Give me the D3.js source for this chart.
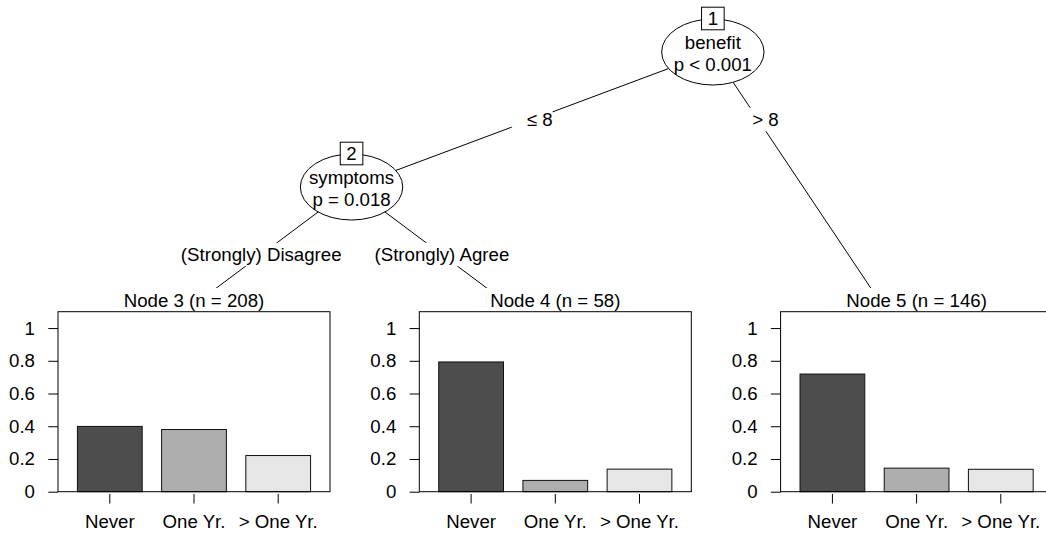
<!DOCTYPE html>
<html><head><meta charset="utf-8">
<script src="https://cdn.jsdelivr.net/npm/d3@7"></script>
<style>
body{margin:0;background:#fff}
svg{display:block}
text{font-family:"Liberation Sans",Arial,Helvetica,sans-serif;font-size:18.67px;fill:#000}
</style>
</head><body>
<svg id="chart" width="1046" height="534"></svg>
<script>
// ---- data ----
const classLabels = ["Never", "One Yr.", "> One Yr."];
const classColors = ["#4D4D4D", "#AEAEAE", "#E6E6E6"];
const innerNodeIds = [1, 2];
const innerVariables = ["benefit", "symptoms"];
const innerPValues = ["p < 0.001", "p = 0.018"];
const terminalNodeIds = [3, 4, 5];
const terminalCounts = [208, 58, 146];
const propNever = [0.399, 0.793, 0.719];
const propOneYr = [0.380, 0.069, 0.144];
const propMoreYr = [0.221, 0.138, 0.137];
const yTicks = [0, 0.2, 0.4, 0.6, 0.8, 1];
const yTickLabels = ["0", "0.2", "0.4", "0.6", "0.8", "1"];
const edgeFrom = [1, 1, 2, 2];
const edgeTo = [2, 5, 3, 4];
const edgeLabels = ["\u2264 8", "> 8", "(Strongly) Disagree", "(Strongly) Agree"];

// ---- structure ----
const children = {};
edgeFrom.forEach((f, i) => { (children[f] = children[f] || []).push(edgeTo[i]); });
const pos = {}, depth = {};
let termIdx = 0;
function layout(id, d) {
  depth[id] = d;
  const kids = children[id];
  if (!kids) { pos[id] = ++termIdx; return [pos[id], pos[id]]; }
  const ranges = kids.map(k => layout(k, d + 1));
  pos[id] = (ranges[0][1] + ranges[1][0]) / 2;
  return [ranges[0][0], ranges[ranges.length - 1][1]];
}
layout(1, 0);
const maxDepth = 2;
terminalNodeIds.forEach(t => depth[t] = maxDepth);

const xPos = d3.scaleLinear().domain([1, 3]).range([170.9, 893.5]);
const yLev = d3.scaleLinear().domain([0, maxDepth]).range([52, 322]);

const svg = d3.select("#chart");
svg.append("rect").attr("width", 1046).attr("height", 534).attr("fill", "#fff");

const P = id => [xPos(pos[id]), yLev(depth[id])];

// edges
const gEdges = svg.append("g");
edgeFrom.forEach((f, i) => {
  const [x0, y0] = P(f), [x1, y1] = P(edgeTo[i]);
  gEdges.append("line").attr("x1", x0).attr("y1", y0).attr("x2", x1).attr("y2", y1)
    .attr("stroke", "#000").attr("stroke-width", 1);
});

// edge labels
edgeFrom.forEach((f, i) => {
  const [x0, y0] = P(f), [x1, y1] = P(edgeTo[i]);
  const ly = (yLev(depth[f]) + yLev(depth[f] + 1)) / 2;
  const lx = x0 + (x1 - x0) * (ly - y0) / (y1 - y0);
  const g = svg.append("g");
  const numeric = /^[\u2264>]/.test(edgeLabels[i]);
  const r = g.append("rect").attr("fill", "#fff");
  const t = g.append("text").attr("x", lx + (numeric ? 7.5 : 0)).attr("y", ly).attr("dy", "0.35em")
    .attr("text-anchor", "middle").text(edgeLabels[i]);
  const w = t.node().getComputedTextLength() + (numeric ? 15 : 0);
  r.attr("x", lx - w / 2).attr("y", ly - 11.7).attr("width", w).attr("height", 23.4);
});

// white backgrounds of terminal viewports
terminalNodeIds.forEach(id => {
  const xt = xPos(pos[id]);
  svg.append("rect").attr("x", xt - 178).attr("y", 288).attr("width", 356).attr("height", 250).attr("fill", "#fff");
});

// inner nodes
innerNodeIds.forEach((id, i) => {
  const [cx, cy] = P(id);
  const g = svg.append("g");
  g.append("ellipse").attr("cx", cx).attr("cy", cy).attr("rx", 51.2).attr("ry", 33)
    .attr("fill", "#fff").attr("stroke", "#000").attr("stroke-width", 1);
  g.append("text").attr("x", cx).attr("y", cy - 3).attr("text-anchor", "middle").text(innerVariables[i]);
  g.append("text").attr("x", cx).attr("y", cy + 18.5).attr("text-anchor", "middle").text(innerPValues[i]);
  g.append("rect").attr("x", cx - 11.3).attr("y", cy - 33 - 11.8).attr("width", 22.6).attr("height", 22.6)
    .attr("fill", "#fff").attr("stroke", "#000").attr("stroke-width", 1);
  g.append("text").attr("x", cx).attr("y", cy - 33 - 0.5).attr("dy", "0.35em").attr("text-anchor", "middle").text(id);
});

// terminal nodes
const props = [propNever, propOneYr, propMoreYr];
const y = d3.scaleLinear().domain([0, 1.1]).range([491.7, 311.7]);
terminalNodeIds.forEach((id, k) => {
  const xt = xPos(pos[id]);
  const left = xt - 112.9, right = xt + 159.1;
  const g = svg.append("g");
  const x = d3.scaleBand().domain(classLabels).range([left, right]).paddingInner(0.3 / 1.3).paddingOuter(0.3 / 1.3);
  g.append("text").attr("x", (left + right) / 2).attr("y", 306.7).attr("text-anchor", "middle")
    .text(`Node ${id} (n = ${terminalCounts[k]})`);
  g.selectAll("rect.bar").data(classLabels).join("rect").attr("class", "bar")
    .attr("x", c => x(c)).attr("width", x.bandwidth())
    .attr("y", (c, j) => y(props[j][k])).attr("height", (c, j) => y(0) - y(props[j][k]))
    .attr("fill", (c, j) => classColors[j]).attr("stroke", "#111").attr("stroke-width", 1);
  g.append("rect").attr("x", left).attr("y", y(1.1)).attr("width", right - left).attr("height", y(0) - y(1.1))
    .attr("fill", "none").attr("stroke", "#000").attr("stroke-width", 1);
  const ya = g.append("g").attr("transform", `translate(${left},0)`)
    .call(d3.axisLeft(y).tickValues(yTicks).tickFormat((d, j) => yTickLabels[j]).tickSize(9.7).tickPadding(13.3));
  ya.select(".domain").remove();
  ya.selectAll("text").attr("font-size", null).attr("font-family", null);
  const xa = g.append("g").attr("transform", `translate(0,494)`)
    .call(d3.axisBottom(x).tickSize(9.5).tickPadding(10.75));
  xa.select(".domain").remove();
  xa.selectAll("text").attr("font-size", null).attr("font-family", null);
});
svg.selectAll(".tick line").attr("stroke", "#000");
</script>
</body></html>
